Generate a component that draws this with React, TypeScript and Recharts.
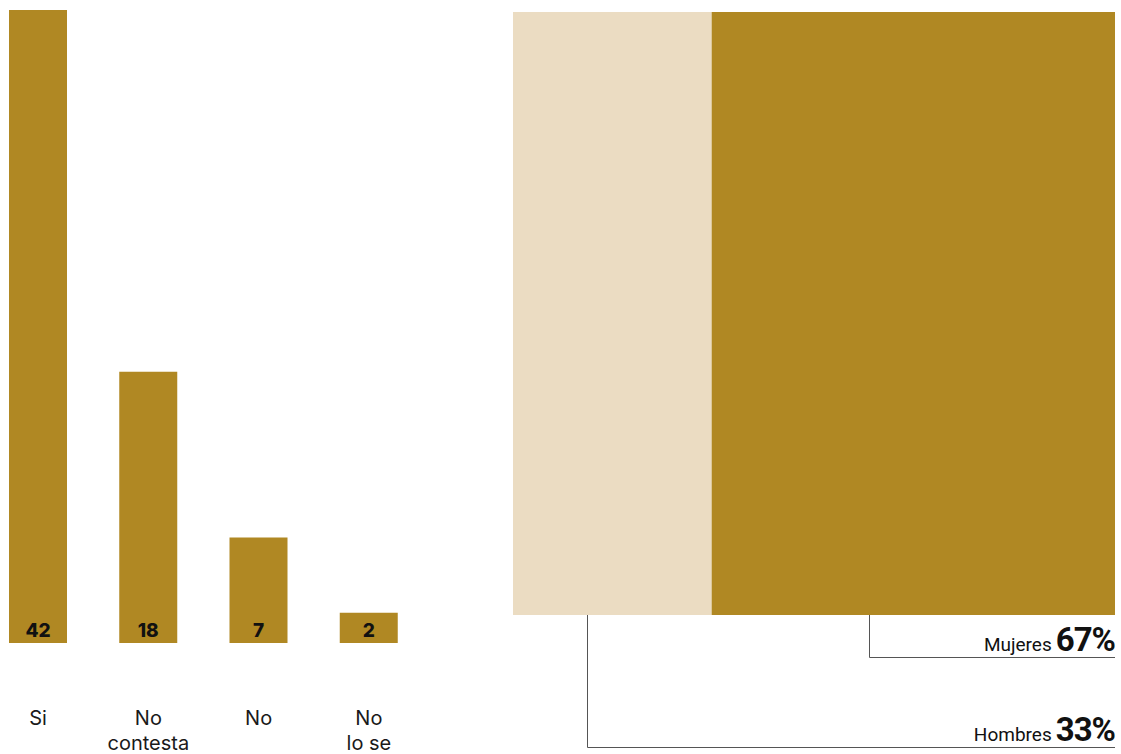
import React from 'react';
import { BarChart, Bar, XAxis, YAxis, LabelList } from 'recharts';

const answers = ['Si', 'No\ncontesta', 'No', 'No\nlo se'];
const answerCounts = [42, 18, 7, 2];

const genderLabels = ['Hombres', 'Mujeres'];
const genderShares = [33, 67];

const DARK = '#B08823';
const LIGHT = '#EBDCC2';

const answerData = answers.map((name, i) => ({ name, value: answerCounts[i] }));
const genderRow = [
  genderLabels.reduce((acc: any, g, i) => ({ ...acc, [g]: genderShares[i] }), { name: 'Género' }),
];

const AnswerTick = (props: any) => {
  const { x, y, payload } = props;
  const lines = String(payload.value).split('\n');
  return (
    <text x={x} y={y + 74} textAnchor="middle" fill="#1a1a1a" fontSize={20} fontFamily="Inter, sans-serif">
      {lines.map((l, i) => (
        <tspan key={i} x={x} dy={i === 0 ? 0 : 25}>
          {l}
        </tspan>
      ))}
    </text>
  );
};

const CountLabel = (props: any) => {
  const { x, y, width, height, value } = props;
  return (
    <text
      x={x + width / 2}
      y={y + height - 6}
      textAnchor="middle"
      fill="#111"
      fontSize={19}
      fontWeight={800}
      fontFamily="Inter, sans-serif"
    >
      {value}
    </text>
  );
};

// leader line drop depth and anchor per segment
const leaderBottom: Record<string, number> = { Hombres: 747, Mujeres: 657 };
const leaderAt: Record<string, number> = { Hombres: 0.37, Mujeres: 0.39 };
const RIGHT_EDGE = 1115;

const makeGenderLabel = (key: string, share: number) => (props: any) => {
  const { x, y, width, height } = props;
  const lx = Math.round(x + width * leaderAt[key]) + 0.5;
  const top = y + height;
  const bottom = leaderBottom[key] + 0.5;
  return (
    <g>
      <polyline
        points={`${lx},${top} ${lx},${bottom} ${RIGHT_EDGE},${bottom}`}
        fill="none"
        stroke="#555"
        strokeWidth={1}
      />
      <text x={RIGHT_EDGE} y={bottom - 7} textAnchor="end" fill="#111" fontFamily="Roboto, sans-serif">
        <tspan fontSize={19} fontWeight={400}>
          {key}
        </tspan>
        <tspan dx={4} fontSize={33} fontWeight={700} letterSpacing={-1}>
          {share}%
        </tspan>
      </text>
    </g>
  );
};

export default function App() {
  return (
    <div style={{ position: 'absolute', left: 0, top: 0, width: 1121, height: 754, background: '#fff', overflow: 'hidden' }}>
      <div style={{ position: 'absolute', left: -17, top: 0 }}>
        <BarChart width={441} height={754} data={answerData} margin={{ top: 10, right: 0, left: 0, bottom: 0 }}>
          <XAxis dataKey="name" height={111} axisLine={false} tickLine={false} tick={<AnswerTick />} interval={0} />
          <YAxis hide domain={[0, 42]} />
          <Bar dataKey="value" fill={DARK} barSize={58} isAnimationActive={false}>
            <LabelList dataKey="value" content={<CountLabel />} />
          </Bar>
        </BarChart>
      </div>
      <div style={{ position: 'absolute', left: 0, top: 0 }}>
        <BarChart
          width={1121}
          height={754}
          data={genderRow}
          layout="vertical"
          barCategoryGap={0}
          margin={{ top: 12, right: 6, left: 513, bottom: 139 }}
        >
          <XAxis type="number" hide domain={[0, 100]} />
          <YAxis type="category" dataKey="name" hide />
          {genderLabels.map((g, i) => (
            <Bar
              key={g}
              dataKey={g}
              stackId="g"
              fill={i === 0 ? LIGHT : DARK}
              isAnimationActive={false}
              label={makeGenderLabel(g, genderShares[i])}
            />
          ))}
        </BarChart>
      </div>
    </div>
  );
}
